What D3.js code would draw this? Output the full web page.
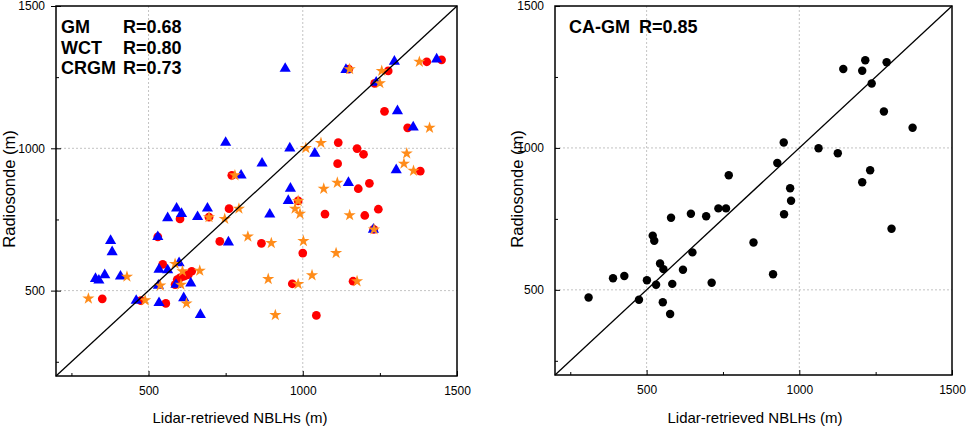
<!DOCTYPE html>
<html>
<head>
<meta charset="utf-8">
<script src="https://cdn.jsdelivr.net/npm/d3@7"></script>
<style>
  body { margin: 0; background: #fff; }
  svg { display: block; font-family: Arial, 'Liberation Sans', sans-serif; }
</style>
</head>
<body>
<svg id="chart" width="967" height="427"></svg>
<script>
// lidar NBLH (x) vs radiosonde (y), metres
const gm = [
  [350, 471], [530, 689], [546, 592], [556, 455], [586, 521], [602, 545], [613, 550],
  [629, 556], [640, 568], [602, 752], [696, 758], [731, 673], [761, 788], [770, 905],
  [866, 666], [966, 524], [985, 815], [1000, 632], [1044, 413], [1072, 769], [1113, 946],
  [1115, 1020], [1163, 533], [1176, 999], [1180, 858], [1197, 979], [1201, 764], [1216, 877],
  [1233, 1228], [1245, 786], [1265, 1130], [1277, 1272], [1340, 1072], [1381, 920],
  [1402, 1304], [1450, 1311], [620, 553], [475, 465], [1149, 1278], [1230, 715], [593, 539]
];
const wct = [
  [328, 542], [339, 536], [358, 555], [377, 675], [382, 636], [409, 550], [460, 465],
  [530, 689], [534, 574], [562, 572], [532, 518], [589, 521], [637, 526], [534, 457],
  [614, 474], [591, 789], [607, 770], [562, 755], [659, 759], [599, 597], [668, 415],
  [691, 789], [750, 1020], [759, 670], [800, 905], [868, 947], [893, 768], [943, 1280],
  [953, 816], [960, 859], [958, 1000], [1039, 982], [1140, 1276], [1148, 879], [1229, 715],
  [1238, 1231], [1297, 1305], [1303, 924], [1307, 1131], [1358, 1074], [1434, 1313]
];
const crgm = [
  [305, 472], [430, 549], [489, 466], [538, 518], [586, 594], [610, 568], [605, 521],
  [623, 455], [666, 570], [696, 758], [747, 752], [793, 788], [780, 905], [822, 690],
  [898, 667], [888, 541], [911, 414], [985, 523], [1030, 554], [1002, 674], [985, 815],
  [975, 788], [991, 770], [1068, 858], [1108, 632], [1010, 1001], [1059, 1019], [1152, 1278],
  [1256, 1272], [1250, 1229], [1378, 1304], [1411, 1072], [1337, 982], [1328, 946],
  [1359, 921], [1112, 879], [1152, 765], [1231, 715], [1176, 533]
];
const cagm = [
  [310, 473], [390, 541], [427, 549], [475, 465], [501, 534], [520, 691], [525, 673],
  [531, 518], [544, 593], [555, 573], [553, 456], [577, 415], [580, 754], [584, 521],
  [619, 571], [645, 768], [650, 632], [695, 759], [713, 525], [735, 787], [760, 787],
  [769, 904], [850, 667], [914, 555], [928, 947], [949, 1019], [950, 766], [970, 858],
  [973, 814], [1063, 999], [1126, 981], [1144, 1278], [1206, 879], [1206, 1272],
  [1216, 1309], [1232, 921], [1237, 1227], [1277, 1128], [1286, 1302], [1302, 715],
  [1371, 1071]
];

const domainMin = 200;
const domainMax = 1500;
const majorTicks = [500, 1000, 1500];
const minorTicks = [250, 750, 1250];
const gridTicks = [500, 1000];

const leftLabels = [['GM', 'R=0.68'], ['WCT', 'R=0.80'], ['CRGM', 'R=0.73']];
const rightLabels = [['CA-GM', 'R=0.85']];

const svg = d3.select('#chart');
const fmt = d3.format('d');

function panel(opts) {
  const { x0, x1, y0, y1, series, labels, nameX, rX, titleX, yTitleX, crossY } = opts;

  const x = d3.scaleLinear().domain([domainMin, domainMax]).range([x0, x1]);
  const y = d3.scaleLinear().domain([domainMin, domainMax]).range([y1, y0]);

  const g = svg.append('g');

  // dashed grid
  g.append('g')
    .selectAll('line')
    .data(gridTicks)
    .join('line')
    .attr('x1', d => x(d)).attr('x2', d => x(d))
    .attr('y1', y0).attr('y2', y1)
    .attr('stroke', '#b4b4b4').attr('stroke-width', 0.8)
    .attr('stroke-dasharray', '2,2');
  g.append('g')
    .selectAll('line')
    .data(gridTicks)
    .join('line')
    .attr('y1', d => y(d)).attr('y2', d => y(d))
    .attr('x1', x0).attr('x2', x1)
    .attr('stroke', '#b4b4b4').attr('stroke-width', 0.8)
    .attr('stroke-dasharray', '2,2');

  // axes, ticks pointing inward
  const axes = [];
  axes.push(g.append('g').attr('transform', `translate(0,${y1})`)
    .call(d3.axisBottom(x).tickValues(majorTicks).tickSize(-5).tickPadding(10.5).tickFormat(fmt)));
  axes.push(g.append('g').attr('transform', `translate(0,${y1})`)
    .call(d3.axisBottom(x).tickValues(minorTicks).tickSize(-3).tickFormat('')));
  axes.push(g.append('g').attr('transform', `translate(${x0},0)`)
    .call(d3.axisLeft(y).tickValues(majorTicks).tickSize(-5).tickPadding(11).tickFormat(fmt)));
  axes.push(g.append('g').attr('transform', `translate(${x0},0)`)
    .call(d3.axisLeft(y).tickValues(minorTicks).tickSize(-3).tickFormat('')));
  if (crossY) {
    axes.push(g.append('g').attr('transform', `translate(${x0},0)`)
      .call(d3.axisLeft(y).tickValues(majorTicks).tickSize(5).tickFormat('')));
  }

  axes.forEach(a => {
    a.select('.domain').remove();
    a.selectAll('text').attr('font-size', 12).attr('fill', '#000')
      .attr('font-family', 'Arial, "Liberation Sans", sans-serif');
    a.selectAll('line').attr('stroke', '#000');
  });

  // points
  series.forEach(s => {
    g.append('g')
      .selectAll('path')
      .data(s.data)
      .join('path')
      .attr('transform', d => `translate(${x(d[0])},${y(d[1])})`)
      .attr('d', d3.symbol().type(s.type).size(s.size))
      .attr('fill', s.color);
  });

  // 1:1 line
  g.append('line')
    .attr('x1', x(domainMin)).attr('y1', y(domainMin))
    .attr('x2', x(domainMax)).attr('y2', y(domainMax))
    .attr('stroke', '#000').attr('stroke-width', 1.3);

  // frame
  g.append('rect')
    .attr('x', x0).attr('y', y0)
    .attr('width', x1 - x0).attr('height', y1 - y0)
    .attr('fill', 'none').attr('stroke', '#000').attr('stroke-width', 1.5);

  // R labels
  labels.forEach((l, i) => {
    const ty = 33 + i * 20.5;
    g.append('text').attr('x', nameX).attr('y', ty)
      .attr('font-size', 18).attr('font-weight', 'bold').text(l[0]);
    g.append('text').attr('x', rX).attr('y', ty)
      .attr('font-size', 18).attr('font-weight', 'bold').text(l[1]);
  });

  // axis titles
  g.append('text')
    .attr('x', titleX).attr('y', 423)
    .attr('text-anchor', 'middle').attr('font-size', 15)
    .text('Lidar-retrieved NBLHs (m)');
  g.append('text')
    .attr('transform', `translate(${yTitleX},189) rotate(-90)`)
    .attr('text-anchor', 'middle').attr('font-size', 16.5)
    .text('Radiosonde (m)');
}

panel({
  x0: 56, x1: 457, y0: 6, y1: 376, crossY: true,
  series: [
    { data: gm, type: d3.symbolCircle, size: 60, color: '#ff0000' },
    { data: wct, type: d3.symbolTriangle, size: 54, color: '#0000ff' },
    { data: crgm, type: d3.symbolStar, size: 46, color: '#ff8c1a' }
  ],
  labels: leftLabels, nameX: 61, rX: 123, titleX: 240, yTitleX: 15
});

panel({
  x0: 555, x1: 952, y0: 6, y1: 375, crossY: false,
  series: [
    { data: cagm, type: d3.symbolCircle, size: 56, color: '#000' }
  ],
  labels: rightLabels, nameX: 569, rX: 639, titleX: 755, yTitleX: 523
});
</script>
</body>
</html>
